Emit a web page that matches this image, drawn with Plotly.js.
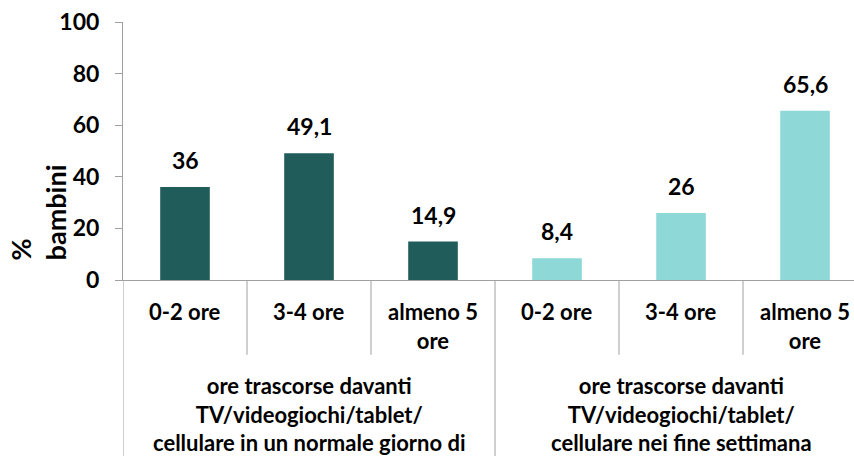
<!DOCTYPE html>
<html>
<head>
<meta charset="utf-8">
<script src="https://cdn.plot.ly/plotly-3.0.1.min.js"></script>
<style>
  html, body { margin: 0; padding: 0; background: #fff; }
  #chart { width: 854px; height: 456px; }
</style>
</head>
<body>
<div id="chart"></div>
<script>
// dati
var ore = ['0-2 ore', '3-4 ore', 'almeno 5<br>ore'];
var gruppi = [
  'ore trascorse davanti<br>TV/videogiochi/tablet/<br>cellulare in un normale giorno di',
  'ore trascorse davanti<br>TV/videogiochi/tablet/<br>cellulare nei fine settimana'
];
var giornoNormale = [36, 49.1, 14.9];
var fineSettimana = [8.4, 26, 65.6];
var yTicks = [0, 20, 40, 60, 80, 100];

var FONT = 'Lato, "Open Sans", sans-serif';
var AXIS = '#a0a0a0';

// posizione di ogni categoria sull'asse x (0..5)
var xGiorno = ore.map(function (o, i) { return i; });
var xWeekend = ore.map(function (o, i) { return i + ore.length; });

var fmt = function (v) { return String(v).replace('.', ','); };

var data = [
  {
    type: 'bar', x: xGiorno, y: giornoNormale, width: 0.4,
    marker: { color: '#1f5c5a' }, hoverinfo: 'none'
  },
  {
    type: 'bar', x: xWeekend, y: fineSettimana, width: 0.4,
    marker: { color: '#8ed9d8' }, hoverinfo: 'none'
  }
];

var annotations = [];
// etichette valori
xGiorno.concat(xWeekend).forEach(function (x, i) {
  var v = giornoNormale.concat(fineSettimana)[i];
  annotations.push({
    x: x, y: v, xref: 'x', yref: 'y', text: fmt(v), showarrow: false,
    yanchor: 'bottom', yshift: 11,
    font: { family: FONT, size: 23, weight: 'bold', color: '#000' }
  });
});
// etichette ore
xGiorno.concat(xWeekend).forEach(function (x, i) {
  annotations.push({
    x: x, y: 0, xref: 'x', yref: 'paper', text: ore[i % ore.length], showarrow: false,
    yanchor: 'top', yshift: -16,
    font: { family: FONT, size: 22, weight: 'bold', color: '#000' }
  });
});
// etichette gruppi
gruppi.forEach(function (g, k) {
  annotations.push({
    x: k * ore.length + 1, y: 0, xref: 'x', yref: 'paper', text: g, showarrow: false,
    yanchor: 'top', yshift: -90,
    font: { family: FONT, size: 22, weight: 'bold', color: '#000' }
  });
});
// titolo asse y
annotations.push({
  x: -0.1163, y: 0.262, xref: 'paper', yref: 'paper', text: '%<br>bambini',
  xanchor: 'center', yanchor: 'middle',
  showarrow: false, textangle: -90, align: 'left',
  font: { family: FONT, size: 27, weight: 'bold', color: '#000' }
});

// divisori sotto l'asse
var shapes = [];
xGiorno.concat(xWeekend).forEach(function (x, i) {
  var maggiore = (i % ore.length === 0);
  shapes.push({
    type: 'line', xref: 'x', yref: 'paper',
    x0: x - 0.5, x1: x - 0.5, y0: 0, y1: maggiore ? -0.7 : -0.29,
    line: { color: AXIS, width: 1 }
  });
});

var layout = {
  width: 854, height: 456,
  margin: { l: 123, r: 0, t: 22, b: 176 },
  paper_bgcolor: '#fff', plot_bgcolor: '#fff',
  showlegend: false,
  barmode: 'overlay',
  xaxis: {
    range: [-0.5, 5.395], showticklabels: false, ticks: '',
    showgrid: false, zeroline: false, showline: true,
    linecolor: AXIS, linewidth: 1, fixedrange: true
  },
  yaxis: {
    range: [0, 100], tickvals: yTicks, ticks: 'outside', ticklen: 7,
    tickcolor: AXIS, showgrid: false, zeroline: false, showline: true,
    linecolor: AXIS, linewidth: 1, fixedrange: true, ticklabelstandoff: 11,
    tickfont: { family: FONT, size: 23, weight: 'bold', color: '#000' }
  },
  annotations: annotations,
  shapes: shapes
};

Plotly.newPlot('chart', data, layout, { displayModeBar: false, staticPlot: true });
</script>
</body>
</html>
